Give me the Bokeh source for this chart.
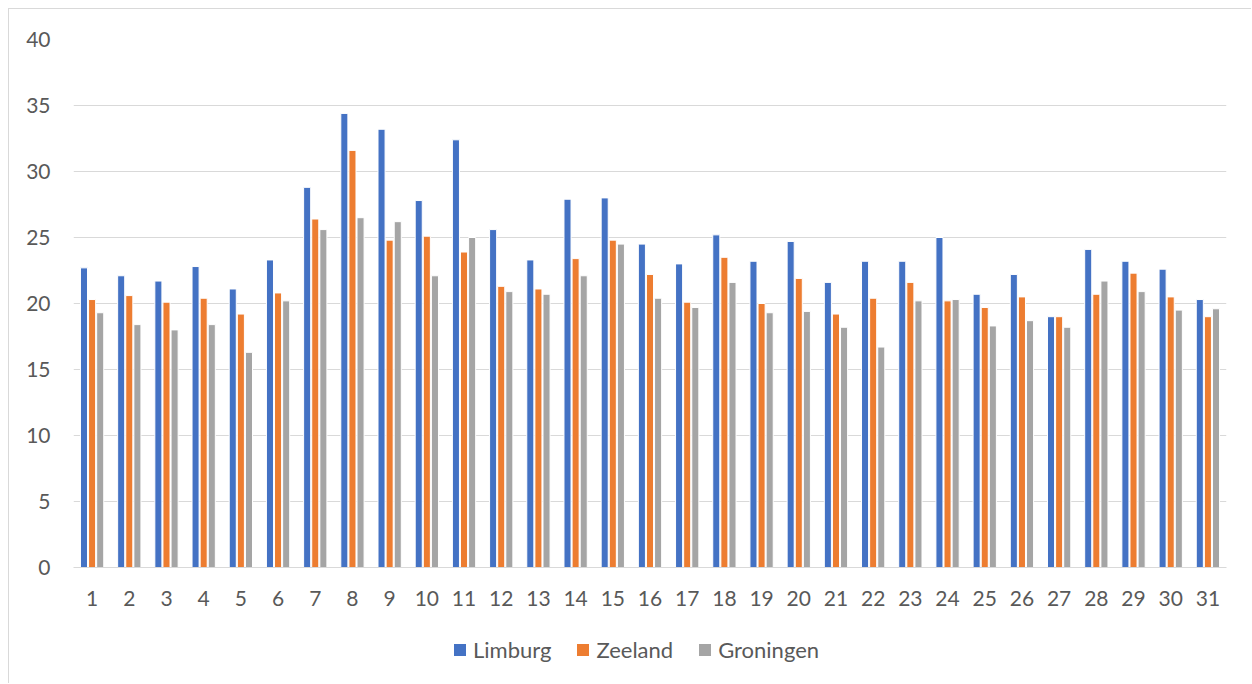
from bokeh.plotting import figure
from bokeh.layouts import column
from bokeh.models import ColumnDataSource, FactorRange, Range1d, Legend, LegendItem, FixedTicker
from bokeh.transform import dodge
from bokeh.embed import file_html
from bokeh.resources import INLINE

days = [str(i) for i in range(1, 32)]
limburg = [22.7, 22.1, 21.7, 22.8, 21.1, 23.3, 28.8, 34.4, 33.2, 27.8, 32.4, 25.6, 23.3, 27.9, 28.0, 24.5,
           23.0, 25.2, 23.2, 24.7, 21.6, 23.2, 23.2, 25.0, 20.7, 22.2, 19.0, 24.1, 23.2, 22.6, 20.3]
zeeland = [20.3, 20.6, 20.1, 20.4, 19.2, 20.8, 26.4, 31.6, 24.8, 25.1, 23.9, 21.3, 21.1, 23.4, 24.8, 22.2,
           20.1, 23.5, 20.0, 21.9, 19.2, 20.4, 21.6, 20.2, 19.7, 20.5, 19.0, 20.7, 22.3, 20.5, 19.0]
groningen = [19.3, 18.4, 18.0, 18.4, 16.3, 20.2, 25.6, 26.5, 26.2, 22.1, 25.0, 20.9, 20.7, 22.1, 24.5, 20.4,
             19.7, 21.6, 19.3, 19.4, 18.2, 16.7, 20.2, 20.3, 18.3, 18.7, 18.2, 21.7, 20.9, 19.5, 19.6]
series_names = ["Limburg", "Zeeland", "Groningen"]
colors = ["#4472C4", "#ED7D31", "#A5A5A5"]
y_ticks = [0, 5, 10, 15, 20, 25, 30, 35, 40]

FONT = "Lato"
TEXT = "#595959"
GRID = "#D9D9D9"
BORDER = "1px solid #D9D9D9"

source = ColumnDataSource(data=dict(day=days, Limburg=limburg, Zeeland=zeeland, Groningen=groningen))

p = figure(width=1243, height=610, x_range=FactorRange(*days), y_range=Range1d(0, 40),
           output_backend="svg", toolbar_location=None,
           min_border_left=64, min_border_right=26, min_border_top=30, min_border_bottom=52)
p.margin = (8, 0, 0, 8)
p.styles = {"border-left": BORDER, "border-top": BORDER}

offsets = [-0.218, 0.0, 0.218]
for name, col, off in zip(series_names, colors, offsets):
    p.vbar(x=dodge("day", off, range=p.x_range), top=name, width=0.19, source=source,
           fill_color=col, line_color="white", line_width=1)

p.outline_line_color = None
p.xgrid.grid_line_color = None
p.ygrid.grid_line_color = GRID
p.ygrid.grid_line_width = 1

p.yaxis.ticker = FixedTicker(ticks=y_ticks)
p.yaxis.axis_line_color = None
p.yaxis.major_tick_line_color = None
p.yaxis.minor_tick_line_color = None
p.yaxis.major_label_standoff = 17
p.yaxis.major_label_text_font = FONT
p.yaxis.major_label_text_font_size = "21px"
p.yaxis.major_label_text_color = TEXT

p.xaxis.axis_line_color = GRID
p.xaxis.major_tick_line_color = None
p.xaxis.minor_tick_line_color = None
p.xaxis.major_label_standoff = 17
p.xaxis.major_label_text_font = FONT
p.xaxis.major_label_text_font_size = "21px"
p.xaxis.major_label_text_color = TEXT

# legend strip below the chart (its series renderers are zero-size and out of view)
lg = figure(width=1243, height=65, x_range=FactorRange(*days), y_range=Range1d(50, 51),
            output_backend="svg", toolbar_location=None,
            x_axis_location=None, y_axis_location=None,
            min_border_left=0, min_border_right=0, min_border_top=0, min_border_bottom=0)
lg.margin = (0, 0, 0, 8)
lg.styles = {"border-left": BORDER}
lg.grid.visible = False
lg.outline_line_color = None
dummy = []
for name, col in zip(series_names, colors):
    dummy.append(lg.vbar(x="day", top=name, bottom=name, width=0, source=source,
                         fill_color=col, line_color=None))

legend = Legend(items=[LegendItem(label=n, renderers=[r]) for n, r in zip(series_names, dummy)],
                orientation="horizontal", location=(379, 20),
                glyph_width=15, glyph_height=15, label_standoff=6, spacing=24,
                padding=0, margin=0, border_line_color=None, background_fill_alpha=0,
                label_text_font=FONT, label_text_font_size="22px", label_text_color=TEXT)
lg.add_layout(legend, "center")

layout = column(p, lg, spacing=0)
open("out.html", "w").write(file_html(layout, INLINE))
